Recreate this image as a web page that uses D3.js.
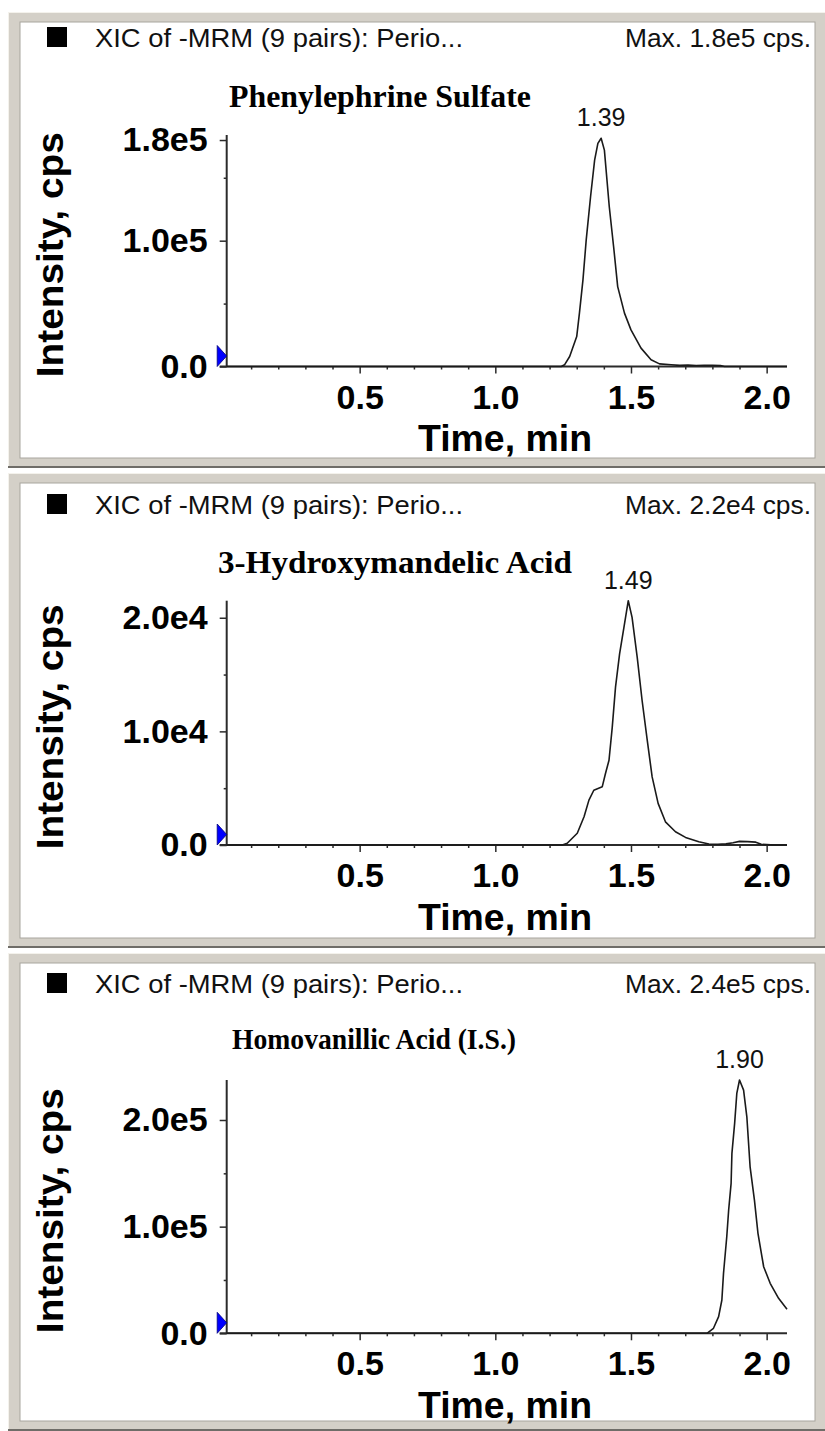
<!DOCTYPE html>
<html>
<head>
<meta charset="utf-8">
<script src="https://cdn.jsdelivr.net/npm/d3@7"></script>
<style>
  html, body { margin: 0; padding: 0; background: #fff; }
  svg { display: block; }
</style>
</head>
<body>
<svg id="chart" width="825" height="1431"></svg>
<script>
// ---------------- data ----------------
const timeTicks = [0.5, 1.0, 1.5, 2.0];
const timeMinorTicks = [0.1, 0.2, 0.3, 0.4, 0.6, 0.7, 0.8, 0.9, 1.1, 1.2, 1.3, 1.4, 1.6, 1.7, 1.8, 1.9];
const timeRange = [0.01, 2.075];

// Phenylephrine Sulfate
const pheTime = [0.01, 1.243, 1.255, 1.274, 1.300, 1.310, 1.323, 1.335, 1.351, 1.366, 1.378, 1.390,
  1.402, 1.420, 1.436, 1.451, 1.476, 1.500, 1.537, 1.574, 1.605, 1.648, 1.680, 1.710, 1.740, 1.770,
  1.800, 1.830, 1.845, 2.075];
const pheIntensity = [0, 0, 1350, 7940, 23800, 42400, 68800, 100600, 134900, 164000, 177300, 181400,
  172000, 127000, 95200, 63500, 42400, 29100, 14600, 5300, 2100, 1350, 900, 1100, 800, 1000,
  900, 700, 0, 0];
const pheYTicks = [0, 1.0e5, 1.8e5];
const pheYMinor = [0.5e5, 1.5e5];
const pheYMax = 1.84e5;

// 3-Hydroxymandelic Acid
const hmaTime = [0.01, 1.247, 1.265, 1.302, 1.327, 1.345, 1.363, 1.394, 1.406, 1.419, 1.431, 1.443,
  1.458, 1.474, 1.490, 1.504, 1.523, 1.541, 1.560, 1.578, 1.600, 1.627, 1.664, 1.701, 1.750, 1.787,
  1.820, 1.850, 1.876, 1.900, 1.930, 1.960, 1.980, 2.000, 2.030, 2.075];
const hmaIntensity = [0, 0, 150, 1030, 2490, 3950, 4820, 5120, 6290, 7460, 10380, 13890,
  16820, 19150, 21500, 20030, 16520, 12720, 9210, 5990, 3660, 2040, 1170, 670, 290, 80,
  60, 100, 200, 320, 300, 250, 60, 30, 0, 0];
const hmaYTicks = [0, 1.0e4, 2.0e4];
const hmaYMinor = [0.5e4, 1.5e4];
const hmaYMax = 2.15e4;

// Homovanillic Acid (I.S.)
const hvaTime = [0.01, 1.780, 1.804, 1.823, 1.835, 1.841, 1.853, 1.860, 1.869, 1.872, 1.882, 1.890,
  1.900, 1.915, 1.927, 1.939, 1.955, 1.968, 1.989, 2.013, 2.044, 2.075];
const hvaIntensity = [0, 0, 4700, 15600, 31200, 56200, 90500, 115600, 140600, 168700, 196800, 224900,
  237500, 228000, 203000, 156100, 124900, 93700, 62400, 46900, 32800, 22500];
const hvaYTicks = [0, 1.0e5, 2.0e5];
const hvaYMinor = [0.5e5, 1.5e5];
const hvaYMax = 2.375e5;

const headerText = "XIC of -MRM (9 pairs): Perio...";
const titles = ["Phenylephrine Sulfate", "3-Hydroxymandelic Acid", "Homovanillic Acid (I.S.)"];
const xAxisTitle = "Time, min";
const yAxisTitle = "Intensity, cps";

// ---------------- layout ----------------
const panels = [
  { title: titles[0], time: pheTime, intensity: pheIntensity, yTicks: pheYTicks, yMinor: pheYMinor, yMax: pheYMax,
    frameTop: 12, frameBottom: 468, headerBase: 47, titleBase: 107, titleX: 229, titleLen: 302, titleSize: 32,
    yBottom: 366.5, yTop: 135 },
  { title: titles[1], time: hmaTime, intensity: hmaIntensity, yTicks: hmaYTicks, yMinor: hmaYMinor, yMax: hmaYMax,
    frameTop: 473, frameBottom: 948, headerBase: 514, titleBase: 573, titleX: 218, titleLen: 354, titleSize: 32,
    yBottom: 845, yTop: 600.7 },
  { title: titles[2], time: hvaTime, intensity: hvaIntensity, yTicks: hvaYTicks, yMinor: hvaYMinor, yMax: hvaYMax,
    frameTop: 953, frameBottom: 1431, headerBase: 993, titleBase: 1049, titleX: 232, titleLen: 284, titleSize: 29,
    yBottom: 1333.3, yTop: 1080 }
];

const W = 825;
const plotLeft = 226.7, plotRight = 787;
const sans = "'Liberation Sans', Arial, sans-serif";
const serif = "'Liberation Serif', 'Times New Roman', serif";
const ink = "#1a1a1a";

const svg = d3.select("#chart");
svg.append("rect").attr("width", W).attr("height", 1431).attr("fill", "#ffffff");

const x = d3.scaleLinear().domain(timeRange).range([plotLeft, plotRight]);

function fmtExp(v) {
  if (v === 0) return "0.0";
  return d3.format(".1e")(v).replace("e+", "e");
}

panels.forEach(p => {
  const g = svg.append("g");

  // window frame
  g.append("rect").attr("x", 8).attr("y", p.frameTop).attr("width", W - 8).attr("height", p.frameBottom - p.frameTop)
    .attr("fill", "#d4d0c8");
  g.append("line").attr("x1", 8).attr("x2", W).attr("y1", p.frameTop + 0.5).attr("y2", p.frameTop + 0.5)
    .attr("stroke", "#f4f2ec").attr("stroke-width", 1);
  g.append("line").attr("x1", 8.5).attr("x2", 8.5).attr("y1", p.frameTop).attr("y2", p.frameBottom)
    .attr("stroke", "#f4f2ec").attr("stroke-width", 1);
  g.append("rect").attr("x", 20).attr("y", p.frameTop + 10).attr("width", 795).attr("height", p.frameBottom - p.frameTop - 20)
    .attr("fill", "#ffffff").attr("stroke", "#a8a59e").attr("stroke-width", 1);
  g.append("line").attr("x1", 8).attr("x2", W).attr("y1", p.frameBottom - 1).attr("y2", p.frameBottom - 1)
    .attr("stroke", "#6f6d68").attr("stroke-width", 2);

  const y = d3.scaleLinear().domain([0, p.yMax]).range([p.yBottom, p.yTop]);
  const points = p.time.map((t, i) => ({ t, v: p.intensity[i] }));
  const peak = points.reduce((a, b) => (b.v > a.v ? b : a));

  // header
  g.append("rect").attr("x", 47).attr("y", p.headerBase - 20).attr("width", 20).attr("height", 20).attr("fill", "#000");
  g.append("text").attr("x", 95).attr("y", p.headerBase)
    .attr("font-family", sans).attr("font-size", 26).attr("fill", "#111")
    .attr("textLength", 368).attr("lengthAdjust", "spacingAndGlyphs")
    .text(headerText);
  g.append("text").attr("x", 811).attr("y", p.headerBase).attr("text-anchor", "end")
    .attr("font-family", sans).attr("font-size", 26).attr("fill", "#111")
    .attr("textLength", 186).attr("lengthAdjust", "spacingAndGlyphs")
    .text("Max. " + fmtExp(peak.v) + " cps.");

  // compound title
  g.append("text").attr("x", p.titleX).attr("y", p.titleBase)
    .attr("font-family", serif).attr("font-weight", "bold").attr("font-size", p.titleSize).attr("fill", "#000")
    .attr("textLength", p.titleLen).attr("lengthAdjust", "spacingAndGlyphs")
    .text(p.title);

  // x axis
  const xMajor = d3.axisBottom(x).tickValues(timeTicks).tickSize(7).tickPadding(11).tickFormat(d3.format(".1f"));
  const xMinor = d3.axisBottom(x).tickValues(timeMinorTicks).tickSize(3).tickFormat("");
  const gx = g.append("g").attr("transform", `translate(0,${p.yBottom})`).call(xMajor);
  g.append("g").attr("transform", `translate(0,${p.yBottom})`).call(xMinor).select(".domain").remove();
  gx.select(".domain").attr("d", `M${plotLeft - 7},0H${plotRight}`);

  // y axis
  const yMajor = d3.axisLeft(y).tickValues(p.yTicks).tickSize(7).tickPadding(12).tickFormat(fmtExp);
  const yMinor = d3.axisLeft(y).tickValues(p.yMinor).tickSize(3).tickFormat("");
  const gy = g.append("g").attr("transform", `translate(${plotLeft},0)`).call(yMajor);
  g.append("g").attr("transform", `translate(${plotLeft},0)`).call(yMinor).select(".domain").remove();
  gy.select(".domain").attr("d", `M0,${p.yTop}V${p.yBottom}`);

  g.selectAll(".domain").attr("stroke", "#2b2b2b").attr("stroke-width", 2);
  g.selectAll(".tick line").attr("stroke", "#2b2b2b").attr("stroke-width", 1.5);
  g.selectAll(".tick text").attr("font-family", sans).attr("font-weight", "bold")
    .attr("font-size", 34).attr("fill", "#000");

  // origin marker
  const mY = p.yBottom;
  g.append("path")
    .attr("d", `M${plotLeft - 9.5},${mY - 21}L${plotLeft},${mY - 10.5}L${plotLeft - 9.5},${mY}Z`)
    .attr("fill", "#0000ff").attr("stroke", "#00007a").attr("stroke-width", 0.8);

  // trace
  const line = d3.line().x(d => x(d.t)).y(d => y(d.v));
  g.append("path").datum(points).attr("d", line)
    .attr("fill", "none").attr("stroke", ink).attr("stroke-width", 1.6).attr("stroke-linejoin", "round");

  // peak retention time
  g.append("text").attr("x", x(peak.t)).attr("y", y(peak.v) - 12).attr("text-anchor", "middle")
    .attr("font-family", sans).attr("font-size", 25).attr("fill", "#111")
    .text(d3.format(".2f")(peak.t));

  // axis titles
  g.append("text").attr("x", 505).attr("y", p.yBottom + 84.5).attr("text-anchor", "middle")
    .attr("font-family", sans).attr("font-weight", "bold").attr("font-size", 36).attr("fill", "#000")
    .attr("textLength", 174).attr("lengthAdjust", "spacingAndGlyphs")
    .text(xAxisTitle);
  const midY = (p.yTop + p.yBottom) / 2 + 4;
  g.append("text").attr("transform", `translate(63,${midY}) rotate(-90)`).attr("text-anchor", "middle")
    .attr("font-family", sans).attr("font-weight", "bold").attr("font-size", 37).attr("fill", "#000")
    .attr("textLength", 245).attr("lengthAdjust", "spacingAndGlyphs")
    .text(yAxisTitle);
});
</script>
</body>
</html>
